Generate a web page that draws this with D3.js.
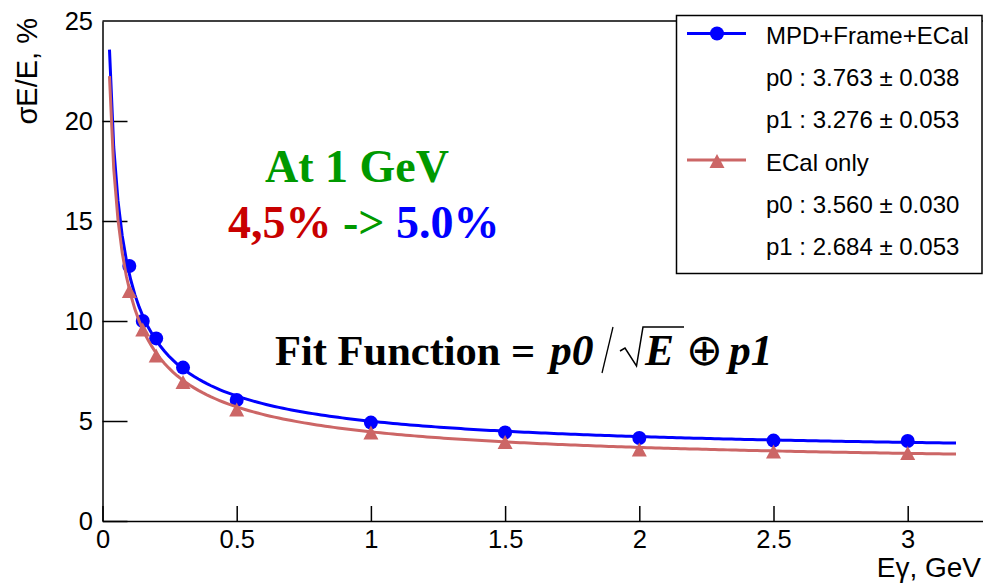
<!DOCTYPE html>
<html>
<head>
<meta charset="utf-8">
<script src="https://cdn.jsdelivr.net/npm/d3@7"></script>
<style>
  body { margin: 0; background: #fff; }
  svg { display: block; }
</style>
</head>
<body>
<div id="chart"></div>
<script>
// data
var energy = [0.1, 0.15, 0.2, 0.3, 0.5, 1, 1.5, 2, 2.5, 3],
    res_full = [12.75, 10.0, 9.13, 7.67, 6.05, 4.92, 4.43, 4.15, 4.02, 4.0],
    res_ecal = [11.47, 9.55, 8.25, 6.92, 5.55, 4.4, 3.92, 3.55, 3.45, 3.37];

// fit parameters from the legend (p0/sqrt(E) (+) p1)
var fit_full = {p0: 3.763, p1: 3.276},
    fit_ecal = {p0: 3.560, p1: 2.684},
    fit_range = [0.026, 3.18];

var x_ticks = [0, 0.5, 1, 1.5, 2, 2.5, 3],
    y_ticks = [0, 5, 10, 15, 20, 25];

var legend_rows = [
  {text: 'MPD+Frame+ECal', key: 'full'},
  {text: 'p0 : 3.763 \u00b1 0.038'},
  {text: 'p1 : 3.276 \u00b1 0.053'},
  {text: 'ECal only', key: 'ecal'},
  {text: 'p0 : 3.560 \u00b1 0.030'},
  {text: 'p1 : 2.684 \u00b1 0.053'}
];

// layout
var width = 983, height = 584,
    col_blue = '#0000ff',
    col_red = '#cc6666',
    sans = '"Liberation Sans", Arial, Helvetica, sans-serif',
    serif = '"Liberation Serif", "Times New Roman", Times, serif';

var x = d3.scaleLinear().domain([0, 3.3]).range([102.5, 102.5 + 3.3 * 268.4]),
    y = d3.scaleLinear().domain([0, 25]).range([521, 21]);

var svg = d3.select('#chart').append('svg')
    .attr('width', width)
    .attr('height', height)
    .style('background', '#fff');

// frame top line
svg.append('line')
    .attr('x1', x(0)).attr('x2', width)
    .attr('y1', y(25)).attr('y2', y(25))
    .attr('stroke', '#000').attr('stroke-width', 1.5);

// axes
var x_axis = d3.axisBottom(x).tickValues(x_ticks).tickSizeInner(-15).tickSizeOuter(0)
      .tickPadding(9).tickFormat(d3.format('')),
    y_axis = d3.axisLeft(y).tickValues(y_ticks).tickSizeInner(-25).tickSizeOuter(0)
      .tickPadding(9.5).tickFormat(d3.format(''));

var gx = svg.append('g').attr('transform', 'translate(0,' + y(0) + ')').call(x_axis),
    gy = svg.append('g').attr('transform', 'translate(' + x(0) + ',0)').call(y_axis);

[gx, gy].forEach(function(g) {
  g.selectAll('path, line').attr('stroke', '#000').attr('stroke-width', 1.5);
  g.selectAll('text').attr('fill', '#000').style('font-family', sans).style('font-size', '25.5px');
});
gy.select('.tick:last-of-type line').remove();

// axis titles
svg.append('text')
    .attr('transform', 'translate(37,18) rotate(-90)')
    .attr('text-anchor', 'end')
    .style('font-family', sans).style('font-size', '29px')
    .text('\u03c3E/E, %');

svg.append('text')
    .attr('x', 981).attr('y', 577)
    .attr('text-anchor', 'end')
    .style('font-family', sans).style('font-size', '28px')
    .text('E\u03b3, GeV');

// fit curves
function fit_curve(p) {
  var n = 200, step = (fit_range[1] - fit_range[0]) / n;
  return d3.range(n + 1).map(function(i) {
    var e = fit_range[0] + i * step;
    return [e, Math.sqrt(p.p0 * p.p0 / e + p.p1 * p.p1)];
  });
}
var line = d3.line().x(function(d) { return x(d[0]); }).y(function(d) { return y(d[1]); });

var tri = 'M0,-7.5L7.5,6.5L-7.5,6.5Z';

function draw_series(vals, p, col, marker) {
  svg.append('path')
      .attr('d', line(fit_curve(p)))
      .attr('fill', 'none').attr('stroke', col).attr('stroke-width', 3);
  var pts = energy.map(function(e, i) { return [e, vals[i]]; });
  if (marker === 'circle') {
    svg.append('g').selectAll('circle').data(pts).enter().append('circle')
        .attr('cx', function(d) { return x(d[0]); })
        .attr('cy', function(d) { return y(d[1]); })
        .attr('r', 7).attr('fill', col);
  } else {
    svg.append('g').selectAll('path').data(pts).enter().append('path')
        .attr('transform', function(d) { return 'translate(' + x(d[0]) + ',' + y(d[1]) + ')'; })
        .attr('d', tri).attr('fill', col);
  }
}
draw_series(res_full, fit_full, col_blue, 'circle');
draw_series(res_ecal, fit_ecal, col_red, 'triangle');

// legend
var legend = svg.append('g');
legend.append('rect')
    .attr('x', 676.5).attr('y', 15.5).attr('width', 305.5).attr('height', 258)
    .attr('fill', '#fff').attr('stroke', '#000').attr('stroke-width', 1.5);

legend.selectAll('text.row').data(legend_rows).enter().append('text')
    .attr('class', 'row')
    .attr('x', 766)
    .attr('y', function(d, i) { return 44 + i * 42.2; })
    .style('font-family', sans).style('font-size', '24px')
    .text(function(d) { return d.text; });

legend_rows.forEach(function(d, i) {
  if (!d.key) return;
  var ly = 44 + i * 42.2 - 10.5,
      col = d.key === 'full' ? col_blue : col_red;
  legend.append('line')
      .attr('x1', 687).attr('x2', 746).attr('y1', ly).attr('y2', ly)
      .attr('stroke', col).attr('stroke-width', 3);
  if (d.key === 'full') {
    legend.append('circle').attr('cx', 717).attr('cy', ly).attr('r', 7).attr('fill', col);
  } else {
    legend.append('path').attr('transform', 'translate(717,' + (ly + 1.5) + ')')
        .attr('d', tri).attr('fill', col);
  }
});

// annotations
svg.append('text')
    .attr('x', 357).attr('y', 182)
    .attr('text-anchor', 'middle')
    .style('font-family', serif).style('font-size', '46px').style('font-weight', 'bold')
    .attr('fill', '#009900')
    .text('At 1 GeV');

var pct = svg.append('text')
    .attr('x', 228).attr('y', 238)
    .style('font-family', serif).style('font-size', '46px').style('font-weight', 'bold');
pct.append('tspan').attr('fill', '#c80000').text('4,5%');
pct.append('tspan').attr('fill', '#009900').text(' -> ');
pct.append('tspan').attr('fill', col_blue).text('5.0%');

var fit_y = 365;
svg.append('text')
    .attr('x', 275).attr('y', fit_y)
    .style('font-family', serif).style('font-size', '42.5px').style('font-weight', 'bold')
    .text('Fit Function =');

function fit_part(tx, str, italic, anchor) {
  svg.append('text')
      .attr('x', tx).attr('y', fit_y)
      .attr('text-anchor', anchor || 'start')
      .style('font-family', serif).style('font-size', '43.5px')
      .style('font-weight', italic ? 'bold' : 'normal')
      .style('font-style', italic ? 'italic' : 'normal')
      .text(str);
}
fit_part(550, 'p0', true);
svg.append('path')
    .attr('d', 'M613,327L602,373')
    .attr('stroke', '#000').attr('stroke-width', 1.3).attr('fill', 'none');
svg.append('path')
    .attr('d', 'M620,351L625,348L636.5,366L643,327L684,327')
    .attr('stroke', '#000').attr('stroke-width', 1.5).attr('fill', 'none');
fit_part(645, 'E', true);
fit_part(704, '\u2295', false, 'middle');
fit_part(729, 'p1', true);
</script>
</body>
</html>
